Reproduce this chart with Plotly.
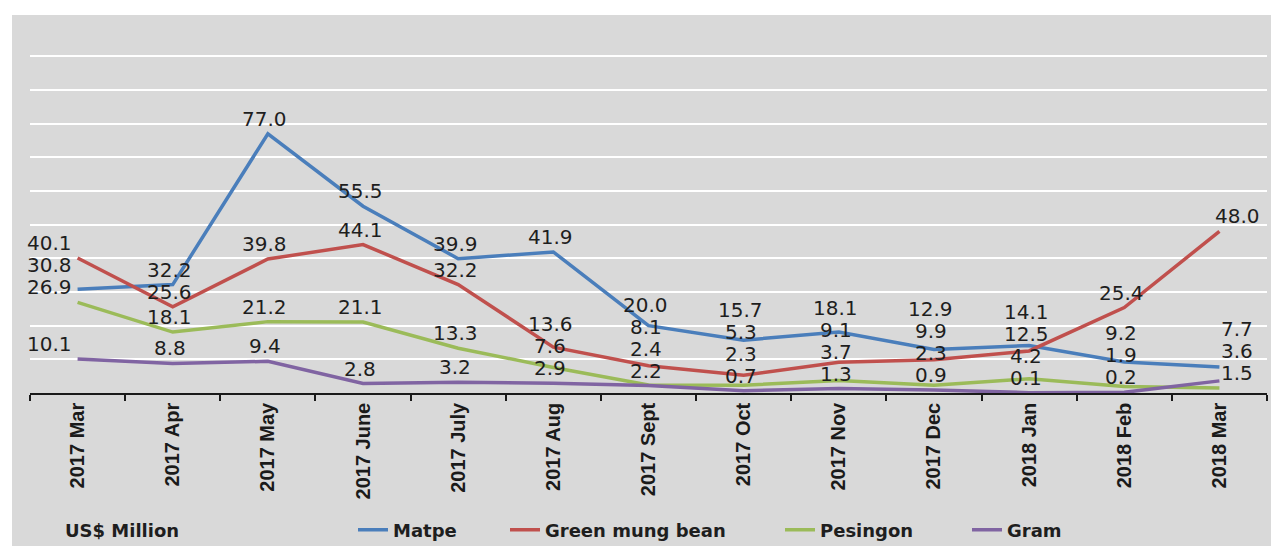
import plotly.graph_objects as go

# ---------------- data ----------------
months = ["2017 Mar", "2017 Apr", "2017 May", "2017 June", "2017 July", "2017 Aug",
          "2017 Sept", "2017 Oct", "2017 Nov", "2017 Dec", "2018 Jan", "2018 Feb", "2018 Mar"]
matpe = [30.8, 32.2, 77.0, 55.5, 39.9, 41.9, 20.0, 15.7, 18.1, 12.9, 14.1, 9.2, 7.7]
green_mung = [40.1, 25.6, 39.8, 44.1, 32.2, 13.6, 8.1, 5.3, 9.1, 9.9, 12.5, 25.4, 48.0]
pesingon = [26.9, 18.1, 21.2, 21.1, 13.3, 7.6, 2.4, 2.3, 3.7, 2.3, 4.2, 1.9, 1.5]
gram = [10.1, 8.8, 9.4, 2.8, 3.2, 2.9, 2.2, 0.7, 1.3, 0.9, 0.1, 0.2, 3.6]
unit_label = "US$ Million"

series = [
    ("Matpe", matpe, "#4a7ebb"),
    ("Green mung bean", green_mung, "#c0504d"),
    ("Pesingon", pesingon, "#9bbb59"),
    ("Gram", gram, "#8064a2"),
]

# ---------------- geometry ----------------
W, H = 1271, 546
YTOP = 101                      # axis range top (grid at 100 drawn inside)
PLOT_BOTTOM = 393
PX_PER_UNIT = (393 - 56) / 100.0
PLOT_TOP = PLOT_BOTTOM - YTOP * PX_PER_UNIT
ML, MR = 30, 4
MT = int(round(PLOT_TOP))
MB = H - PLOT_BOTTOM
PLOT_W = W - ML - MR
PLOT_H = PLOT_BOTTOM - MT


def ypx(v):
    return PLOT_BOTTOM - v / YTOP * PLOT_H


def px_to_paper_x(px):
    return (px - ML) / PLOT_W


def py_to_paper_y(py):
    return (PLOT_BOTTOM - py) / PLOT_H


fig = go.Figure()

legend_names = ["legend", "legend2", "legend3", "legend4"]
for (name, vals, color), lg in zip(series, legend_names):
    fig.add_trace(go.Scatter(
        x=months, y=vals, name=name, mode="lines",
        line=dict(color=color, width=3.5),
        legend=lg, hoverinfo="x+y+name",
    ))

# ---------------- data labels (stacked per column) ----------------
annotations = []
n = len(months)
for i, m in enumerate(months):
    vals = sorted([s[1][i] for s in series])
    prev = None
    for v in vals:
        desired = ypx(v) - 15
        pos = min(desired, 385) if prev is None else min(desired, prev - 22)
        prev = pos
        xs = -28 if i == 0 else (18 if i == n - 1 else -3)
        annotations.append(dict(
            x=m, y=v, xref="x", yref="y", text=f"{v:.1f}", showarrow=False,
            xanchor="center", yanchor="middle", yshift=ypx(v) - pos, xshift=xs,
            font=dict(family="DejaVu Sans", size=20, color="#1e1e1e"),
        ))

legend_y = py_to_paper_y(530)
annotations.append(dict(
    x=px_to_paper_x(63), y=legend_y, xref="paper", yref="paper", text=unit_label,
    showarrow=False, xanchor="left", yanchor="middle",
    font=dict(family="DejaVu Sans", size=18, color="#1e1e1e", weight="bold"),
))

legend_text_starts = [393, 545, 820, 1007]
legend_common = dict(
    y=legend_y, xanchor="left", yanchor="middle", orientation="h",
    bgcolor="rgba(0,0,0,0)", borderwidth=0,
    font=dict(family="DejaVu Sans", size=18, color="#1e1e1e", weight="bold"),
)
legend_layout = {}
for lg, ts in zip(legend_names, legend_text_starts):
    legend_layout[lg] = dict(x=px_to_paper_x(ts - 40), **legend_common)

fig.update_layout(
    width=W, height=H,
    margin=dict(l=ML, r=MR, t=MT, b=MB, autoexpand=False),
    paper_bgcolor="white",
    plot_bgcolor="#d9d9d9",
    showlegend=True,
    annotations=annotations,
    shapes=[dict(
        type="rect", xref="paper", yref="paper", layer="below",
        x0=px_to_paper_x(12), x1=px_to_paper_x(W + 5),
        y0=py_to_paper_y(H + 5), y1=py_to_paper_y(15),
        fillcolor="#d9d9d9", line=dict(width=0),
    )],
    **legend_layout,
)

fig.update_xaxes(
    type="category", showgrid=False, zeroline=False,
    showline=True, linecolor="#1a1a1a", linewidth=1.5,
    ticks="outside", tickson="boundaries", ticklen=6, tickwidth=1.5, tickcolor="#1a1a1a",
    tickangle=-90,
    tickfont=dict(family="Liberation Sans, Arial", size=20, color="#1a1a1a", weight="bold"),
    range=[-0.5, n - 0.5], automargin=False,
)
fig.update_yaxes(
    range=[0, YTOP], dtick=10, showgrid=True, gridcolor="white", gridwidth=2,
    zeroline=False, showticklabels=False, showline=False, ticks="", automargin=False,
)

fig.write_html("out.html", config={"displayModeBar": False},
               post_script="document.body.style.margin='0';")
